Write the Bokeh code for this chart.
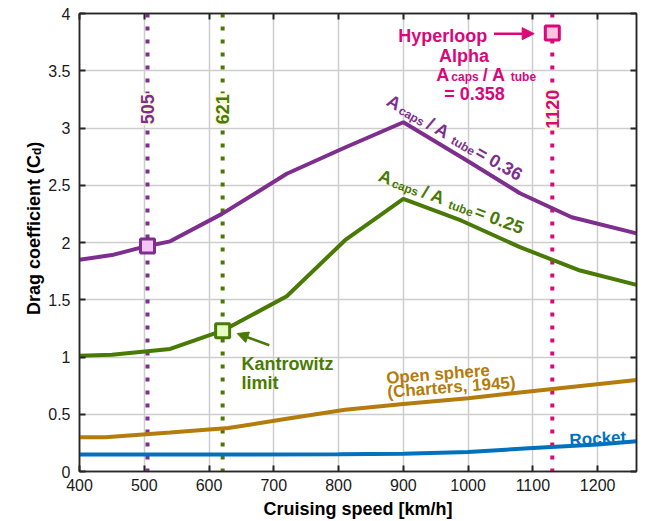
import math
from bokeh.plotting import figure
from bokeh.layouts import row
from bokeh.models import (Label, Span, Arrow, NormalHead, LinearAxis, FixedTicker,
                          Range1d, CustomJSTickFormatter)
from bokeh.embed import file_html
from bokeh.resources import INLINE

# ---------------- data ----------------
speed_r036 = [400, 450, 505, 540, 620, 720, 810, 900, 1000, 1080, 1160, 1260]
cd_r036 = [1.85, 1.89, 1.97, 2.01, 2.25, 2.60, 2.83, 3.05, 2.71, 2.43, 2.22, 2.08]

speed_r025 = [400, 450, 540, 621, 720, 810, 900, 990, 1080, 1170, 1260]
cd_r025 = [1.01, 1.02, 1.07, 1.23, 1.53, 2.02, 2.38, 2.19, 1.96, 1.76, 1.63]

speed_sphere = [400, 440, 540, 630, 720, 810, 900, 1000, 1080, 1260]
cd_sphere = [0.30, 0.30, 0.34, 0.38, 0.46, 0.54, 0.59, 0.64, 0.69, 0.80]

speed_rocket = [400, 600, 800, 900, 1000, 1100, 1200, 1260]
cd_rocket = [0.148, 0.148, 0.15, 0.155, 0.17, 0.205, 0.235, 0.265]

marker_speed = [505, 621, 1130]
marker_cd = [1.97, 1.23, 3.83]

limit_speed = [505, 621, 1130]
limit_text = ["505", "621", "1120"]

x_ticks = [400, 500, 600, 700, 800, 900, 1000, 1100, 1200]
y_ticks = [0, 0.5, 1, 1.5, 2, 2.5, 3, 3.5, 4]

# ---------------- style ----------------
PURPLE = "#7E2F8E"
GREEN = "#4A7A06"
ORANGE = "#B47C0C"
BLUE = "#0072BD"
PINK = "#D9087A"
AXC = "#262626"
FONT = "Liberation Sans"
LEFT_W = 45

p = figure(frame_width=557, frame_height=458,
           x_range=Range1d(400, 1260), y_range=Range1d(0, 4),
           output_backend="svg", toolbar_location=None,
           min_border_left=78 - LEFT_W, min_border_right=11, min_border_top=13,
           min_border_bottom=50, background_fill_color="white",
           border_fill_color="white")
p.outline_line_color = AXC
p.outline_line_width = 1.5

for ax in (p.xaxis[0], p.yaxis[0]):
    ax.major_tick_in = 6
    ax.major_tick_out = 0
    ax.minor_tick_in = 0
    ax.minor_tick_out = 0
    ax.axis_line_color = AXC
    ax.axis_line_width = 1.5
    ax.major_tick_line_color = AXC
    ax.major_tick_line_width = 2
    ax.major_label_text_font = FONT
    ax.major_label_text_font_size = "16px"
    ax.major_label_text_color = "#1a1a1a"

p.xaxis.ticker = FixedTicker(ticks=x_ticks)
p.yaxis.ticker = FixedTicker(ticks=y_ticks)
p.yaxis.formatter = CustomJSTickFormatter(code="return tick.toString();")
p.xaxis.major_label_standoff = 7
p.yaxis.major_label_standoff = 9
p.xaxis.axis_label = "Cruising speed [km/h]"
p.xaxis.axis_label_text_font = FONT
p.xaxis.axis_label_text_font_size = "18px"
p.xaxis.axis_label_text_font_style = "bold"
p.xaxis.axis_label_text_color = "#000000"
p.xaxis.axis_label_standoff = 5

p.xgrid.ticker = FixedTicker(ticks=x_ticks)
p.ygrid.ticker = FixedTicker(ticks=y_ticks)
for g in (p.xgrid[0], p.ygrid[0]):
    g.grid_line_color = "#cdcdcd"
    g.grid_line_width = 1.5

for side, ticks in (("above", x_ticks), ("right", y_ticks)):
    ax = LinearAxis(ticker=FixedTicker(ticks=ticks),
                    formatter=CustomJSTickFormatter(code="return '';"),
                    major_label_text_font_size="1px",
                    major_label_standoff=0, major_tick_in=6, major_tick_out=0,
                    minor_tick_in=0, minor_tick_out=0, axis_line_color=AXC,
                    axis_line_width=1.5, major_tick_line_color=AXC,
                    major_tick_line_width=2)
    p.add_layout(ax, side)

# vertical dotted limits
limit_colors = [PURPLE, GREEN, PINK]
for sp, col in zip(limit_speed, limit_colors):
    p.add_layout(Span(location=sp, dimension="height", line_color=col,
                      line_width=4, line_dash="4 9", level="underlay"))

# curves
p.line(speed_rocket, cd_rocket, line_color=BLUE, line_width=4)
p.line(speed_sphere, cd_sphere, line_color=ORANGE, line_width=4)
p.line(speed_r025, cd_r025, line_color=GREEN, line_width=4)
p.line(speed_r036, cd_r036, line_color=PURPLE, line_width=4)

# markers
marker_fill = ["#F4C4F4", "#E4FFC0", "#FFC2DF"]
for i in range(3):
    p.scatter([marker_speed[i]], [marker_cd[i]], marker="square", size=14,
              line_width=3, line_color=limit_colors[i], fill_color=marker_fill[i])

# limit labels
for sp, txt, col in zip(limit_speed, limit_text, limit_colors):
    p.add_layout(Label(x=sp, y=3.164, text=txt, angle=math.pi / 2,
                       text_align="center", text_baseline="middle",
                       text_font=FONT, text_font_size="18px", text_font_style="bold",
                       text_color=col, background_fill_color="#FCF9E1",
                       padding=1))

# ---------------- rich text helper ----------------
W = {' ': 278, '(': 333, ')': 333, ',': 278, '.': 278, '/': 278, '=': 584,
     '[': 333, ']': 333, 'A': 722, 'C': 722, 'D': 722, 'H': 722, 'K': 722,
     'O': 778, 'R': 722, 'a': 556, 'b': 611, 'c': 556, 'd': 611, 'e': 556,
     'f': 333, 'g': 611, 'h': 611, 'i': 278, 'k': 556, 'l': 278, 'm': 889,
     'n': 611, 'o': 611, 'p': 611, 'r': 389, 's': 556, 't': 333, 'u': 611,
     'w': 778, 'y': 556, 'z': 500}


def tw(s, fs):
    return sum(W.get(c, 556) for c in s) * fs / 1000.0


def rich(fig, x, y, pieces, angle_deg, color, size=18, sub_size=12, drop=3):
    th = math.radians(angle_deg)
    ux, uy = math.cos(th), math.sin(th)
    nx, ny = math.sin(th), -math.cos(th)
    pos = 0.0
    for txt, sub, gap in pieces:
        pos += gap
        fs = sub_size if sub else size
        d = drop if sub else 0
        fig.add_layout(Label(x=x, y=y, x_offset=ux * pos + nx * d,
                             y_offset=uy * pos + ny * d, text=txt, angle=th,
                             text_align="left", text_baseline="alphabetic",
                             text_font=FONT, text_font_size=f"{fs}px",
                             text_font_style="bold", text_color=color))
        pos += tw(txt, fs)


RATIO = lambda v: [("A", 0, 0), ("caps", 1, 2), (" / A", 0, 4), ("tube", 1, 1),
                   (" = " + v, 0, 2)]

# ratio labels on curves
rich(p, 876.6, 3.25, RATIO("0.36"), -30, PURPLE)
rich(p, 863, 2.59, RATIO("0.25"), -20.5, GREEN)

# Hyperloop Alpha block
rich(p, 892, 3.80, [("Hyperloop", 0, 0)], 0, PINK)
rich(p, 955, 3.63, [("Alpha", 0, 0)], 0, PINK)
rich(p, 951, 3.46, [("A", 0, 0), ("caps", 1, 2), (" / A", 0, 4), ("tube", 1, 0)], 0,
     PINK, drop=2)
rich(p, 963, 3.30, [("= 0.358", 0, 0)], 0, PINK)
p.add_layout(Arrow(x_start=1040, y_start=3.824, x_end=1102, y_end=3.824,
                   line_color=PINK, line_width=2.5,
                   end=NormalHead(size=12, fill_color=PINK, line_color=PINK)))

# Kantrowitz limit
rich(p, 650, 0.937, [("Kantrowitz", 0, 0)], 0, GREEN)
rich(p, 650, 0.774, [("limit", 0, 0)], 0, GREEN)
p.add_layout(Arrow(x_start=693, y_start=1.103, x_end=643.5, y_end=1.205,
                   line_color=GREEN, line_width=2.5,
                   end=NormalHead(size=11, fill_color=GREEN, line_color=GREEN)))

# Open sphere
rich(p, 873.6, 0.815, [("Open sphere", 0, 0)], 4.4, ORANGE, size=17)
rich(p, 875.3, 0.693, [("(Charters, 1945)", 0, 0)], 4.4, ORANGE, size=17)

# Rocket
rich(p, 1156.6, 0.273, [("Rocket", 0, 0)], 3, BLUE, size=17)

# ---------------- left strip holding the y-axis title ----------------
pl = figure(width=LEFT_W, height=521, x_range=Range1d(0, LEFT_W),
            y_range=Range1d(0, 521), output_backend="svg", toolbar_location=None,
            min_border=0, min_border_left=0, min_border_right=0,
            min_border_top=0, min_border_bottom=0)
pl.axis.visible = False
pl.grid.visible = False
pl.outline_line_color = None
pl.background_fill_color = "white"
pl.border_fill_color = "white"
rich(pl, 33, 178, [("Drag coefficient (C", 0, 0), ("d", 1, 0), (" )", 0, 0)],
     90, "#000000", size=18, sub_size=12, drop=3)

layout = row(pl, p, spacing=0)
open("out.html", "w").write(file_html(layout, INLINE))
